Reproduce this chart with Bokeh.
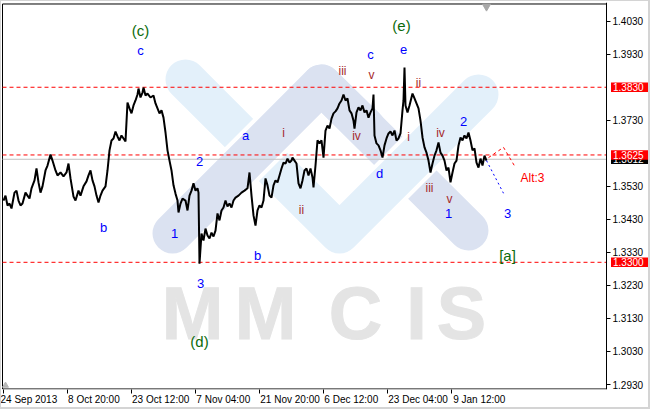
from bokeh.plotting import figure
from bokeh.embed import file_html
from bokeh.resources import INLINE
from bokeh.models import (Range1d, FixedTicker, NumeralTickFormatter,
                          ColumnDataSource, GlobalInlineStyleSheet)
from bokeh.core.properties import value

# ---------------- data ----------------
bars = [0, 2, 4, 6, 8, 11, 13, 15, 17, 19,
        22, 24, 26, 28, 31, 33, 35, 37, 39, 42,
        44, 47, 49, 52, 54, 57, 60, 63, 65, 67,
        70, 72, 75, 77, 80, 83, 85, 87, 89, 91,
        93, 95, 97, 99, 102, 104, 106, 108, 110, 112,
        114, 116, 118, 120, 122, 124, 126, 128, 130, 132,
        134, 135, 137, 139, 140, 142, 144, 147, 150, 152,
        154, 156, 158, 160, 162, 164, 166, 168, 170, 172,
        174, 175, 177, 179, 182, 184, 186, 188, 190, 192,
        194, 195, 196, 198, 200, 202, 204, 206, 208, 210,
        212, 214, 216, 218, 220, 222, 224, 226, 228, 230,
        232, 235, 238, 241, 244, 246, 248, 250, 252, 254,
        256, 258, 260, 262, 264, 266, 268, 270, 272, 274,
        276, 278, 280, 282, 284, 286, 288, 289, 291, 293,
        295, 297, 299, 301, 303, 305, 307, 309, 310, 312,
        314, 316, 318, 320, 322, 324, 326, 328, 330, 332,
        334, 336, 338, 340, 342, 344, 346, 348, 350, 351,
        353, 355, 357, 359, 361, 363, 365, 367, 369, 370,
        371, 373, 375, 377, 379, 381, 383, 385, 387, 389,
        391, 393, 395, 397, 399, 400, 401, 402, 404, 406,
        408, 409, 411, 413, 415, 417, 419, 421, 423, 425,
        427, 429, 431, 433, 435, 437, 439, 441, 443, 445,
        447, 449, 451, 453, 455, 457, 459, 461, 463, 465,
        467, 469, 471, 473, 475, 477, 479, 481, 483]

closes = [1.3487, 1.3502, 1.3472, 1.3478, 1.3463, 1.3511, 1.3517, 1.3487, 1.3472, 1.3478,
          1.3511, 1.3502, 1.3493, 1.3524, 1.3548, 1.3584, 1.3542, 1.3511, 1.3530, 1.3578,
          1.3593, 1.3626, 1.3608, 1.3578, 1.3563, 1.3572, 1.3560, 1.3572, 1.3599, 1.3554,
          1.3499, 1.3487, 1.3517, 1.3502, 1.3530, 1.3545, 1.3563, 1.3578, 1.3548, 1.3530,
          1.3502, 1.3481, 1.3502, 1.3517, 1.3530, 1.3578, 1.3639, 1.3669, 1.3675, 1.3696,
          1.3681, 1.3669, 1.3684, 1.3675, 1.3666, 1.3784, 1.3766, 1.3751, 1.3775, 1.3790,
          1.3808, 1.3826, 1.3799, 1.3814, 1.3829, 1.3805, 1.3811, 1.3799, 1.3805, 1.3781,
          1.3766, 1.3751, 1.3760, 1.3738, 1.3693, 1.3639, 1.3608, 1.3578, 1.3533, 1.3508,
          1.3487, 1.3451, 1.3478, 1.3493, 1.3487, 1.3457, 1.3502, 1.3517, 1.3539, 1.3517,
          1.3524, 1.3511, 1.3296, 1.3387, 1.3366, 1.3402, 1.3381, 1.3372, 1.3390, 1.3378,
          1.3396, 1.3448, 1.3427, 1.3457, 1.3466, 1.3487, 1.3469, 1.3478, 1.3466, 1.3487,
          1.3496, 1.3502, 1.3511, 1.3517, 1.3524, 1.3572, 1.3502, 1.3442, 1.3411, 1.3457,
          1.3472, 1.3466, 1.3487, 1.3554, 1.3533, 1.3502, 1.3496, 1.3533, 1.3548, 1.3542,
          1.3563, 1.3584, 1.3602, 1.3599, 1.3614, 1.3602, 1.3608, 1.3617, 1.3608, 1.3599,
          1.3539, 1.3524, 1.3548, 1.3578, 1.3584, 1.3563, 1.3584, 1.3557, 1.3527, 1.3593,
          1.3669, 1.3660, 1.3669, 1.3617, 1.3699, 1.3714, 1.3705, 1.3735, 1.3751, 1.3757,
          1.3766, 1.3781, 1.3790, 1.3808, 1.3790, 1.3796, 1.3760, 1.3751, 1.3729, 1.3705,
          1.3754, 1.3769, 1.3760, 1.3775, 1.3754, 1.3760, 1.3738, 1.3754, 1.3766, 1.3808,
          1.3684, 1.3660, 1.3654, 1.3639, 1.3617, 1.3654, 1.3675, 1.3690, 1.3696, 1.3684,
          1.3699, 1.3669, 1.3675, 1.3690, 1.3760, 1.3790, 1.3890, 1.3775, 1.3754, 1.3775,
          1.3799, 1.3811, 1.3796, 1.3781, 1.3766, 1.3729, 1.3678, 1.3648, 1.3632, 1.3608,
          1.3572, 1.3599, 1.3623, 1.3639, 1.3663, 1.3632, 1.3623, 1.3608, 1.3578, 1.3587,
          1.3542, 1.3572, 1.3599, 1.3608, 1.3654, 1.3678, 1.3669, 1.3684, 1.3675, 1.3693,
          1.3669, 1.3639, 1.3645, 1.3602, 1.3587, 1.3614, 1.3593, 1.3623, 1.3608]

date_ticks = [0, 64, 128, 192, 256, 320, 384, 448]
date_labels = ["24 Sep 2013", "8 Oct 20:00", "23 Oct 12:00", "7 Nov 04:00",
               "21 Nov 20:00", "6 Dec 12:00", "23 Dec 04:00", "9 Jan 12:00"]
price_ticks = [1.2930, 1.3030, 1.3130, 1.3230, 1.3330, 1.3430, 1.3530,
               1.3730, 1.3930, 1.4030]
levels = [1.3830, 1.3625, 1.3300]
bid = 1.3612

wave_text = ["(c)", "c", "b", "1", "2", "3", "(d)", "a", "b", "i", "ii", "iii", "iv",
             "c", "v", "d", "(e)", "e", "ii", "i", "iv", "2", "iii", "v", "1", "3",
             "Alt:3", "[a]"]
wave_kind = ["G", "B", "B", "B", "B", "B", "G", "B", "B", "R", "R", "R", "R",
             "B", "R", "B", "G", "B", "R", "R", "R", "B", "R", "R", "B", "B",
             "A", "G"]
wave_bar = [137, 137, 100, 171, 196, 197, 196, 242, 254, 280, 298, 339, 353,
            367, 368, 376, 398, 400, 415, 405, 437, 460, 426, 446, 445, 504,
            529, 504]
wave_price = [1.4002, 1.3941, 1.3405, 1.3387, 1.3605, 1.3236, 1.3060, 1.3684,
              1.3321, 1.3690, 1.3457, 1.3878, 1.3681, 1.3929, 1.3866, 1.3569,
              1.4017, 1.3944, 1.3844, 1.3678, 1.3690, 1.3726, 1.3524, 1.3493,
              1.3448, 1.3448, 1.3554, 1.3321]

proj_blue_bar = [483, 500]
proj_blue_price = [1.3608, 1.3509]
proj_red_bar = [485, 500, 512]
proj_red_price = [1.3617, 1.3648, 1.3587]

# watermark logo strokes (bar, price)
cyan_bar = [182, 336, 475]
cyan_price = [1.38535, 1.33873, 1.38081]
lav_bar = [169, 318, 465]
lav_price = [1.33873, 1.38384, 1.33964]

wm_letters = ["M", "M", "C", "I", "S"]
wm_bar = [189, 262, 352, 413, 458]
wm_price = 1.31451

# ---------------- layout constants ----------------
X0, X1 = -2, 647            # bar range across the whole canvas width
AX = 603                    # bar where the price scale sits
Y0, Y1 = 1.29149, 1.40866   # price range of the frame
TOP, BOT = 1.40821, 1.29165  # chart box edges
TAG_H = 0.00142             # half height of a price tag

p = figure(width=650, height=409, output_backend="svg", toolbar_location=None,
           x_range=Range1d(X0, X1), y_range=Range1d(Y0, Y1),
           y_axis_location="right", min_border_left=1, min_border_top=2,
           min_border_right=0, min_border_bottom=20)
p.stylesheets = [GlobalInlineStyleSheet(css=(
    "html,body{margin:0;padding:0;overflow:hidden;}"
    "body::after{content:'';position:fixed;left:0;top:0;width:650px;height:409px;"
    "box-sizing:border-box;border-style:solid;border-color:#d4d4d4;"
    "border-width:1px 2px 2px 1px;pointer-events:none;z-index:100;}"))]
p.background_fill_color = "white"
p.border_fill_color = "white"
p.outline_line_color = None
p.grid.visible = False

for ax in (p.xaxis[0], p.yaxis[0]):
    ax.axis_line_color = "black"
    ax.major_tick_line_color = "black"
    ax.major_tick_out = 4
    ax.major_tick_in = 0
    ax.minor_tick_out = 0
    ax.minor_tick_in = 0
    ax.major_label_text_font = "Liberation Sans"
    ax.major_label_text_font_size = "10px"
    ax.major_label_text_color = "black"
    ax.major_label_standoff = 2
p.xaxis[0].major_label_standoff = 0

# left-aligned date labels: pad each centred label on its left with no-break spaces
CW = {c: 556 for c in "0123456789aenopSO"}
CW.update({" ": 278, ":": 278, "t": 278, "c": 500, "v": 500, "J": 500,
           "N": 722, "D": 722, "O": 778, "S": 667})
def _w(s):
    return sum(CW.get(ch, 556) for ch in s) * 10 / 1000.0
def _pad(s):
    return "\u00a0" * int(round((_w(s) + 2) / 2.78)) + s

overrides = {}
for i, (t, l) in enumerate(zip(date_ticks, date_labels)):
    overrides[t] = l if i == 0 else _pad(l)
p.xaxis[0].ticker = FixedTicker(ticks=date_ticks)
p.xaxis[0].major_label_overrides = overrides
p.xaxis[0].axis_line_color = None
p.yaxis[0].ticker = FixedTicker(ticks=price_ticks)
p.yaxis[0].formatter = NumeralTickFormatter(format="0.0000")
p.yaxis[0].fixed_location = AX

# logo watermark
LAV = "#dbe2f1"
CY = "#e3f0fa"
r = p.line(lav_bar[1:], lav_price[1:], line_width=40, line_color=LAV, line_cap="round")
r.level = "image"
r = p.line(cyan_bar, cyan_price, line_width=48, line_color="white", line_cap="round", line_join="round")
r.level = "image"
r = p.line(cyan_bar, cyan_price, line_width=40, line_color=CY, line_cap="round", line_join="round")
r.level = "image"
r = p.line([lav_bar[0], 277], [lav_price[0], 1.37143], line_width=48, line_color="white", line_cap="round")
r.level = "image"
r = p.line([lav_bar[0], lav_bar[1], 362], [lav_price[0], lav_price[1], 1.37082],
           line_width=40, line_color=LAV, line_cap="round", line_join="round")
r.level = "image"

r = p.text(x=wm_bar, y=[wm_price] * len(wm_bar), text=wm_letters,
           text_font=value("Liberation Sans"), text_font_style="bold",
           text_font_size="74px", text_color="#e4e4e4",
           text_align="center", text_baseline="middle")
r.level = "image"
try:
    r.glyph.text_outline_color = "#e4e4e4"
except Exception:
    pass

# chart box
p.segment(x0=[X0 + 1, X0 + 1], y0=[TOP, BOT], x1=[AX, AX], y1=[TOP, BOT],
          line_color="black", line_width=1)
p.segment(x0=[X0 + 1], y0=[BOT], x1=[X0 + 1], y1=[TOP], line_color="black", line_width=1)

# levels
p.segment(x0=[X0 + 1] * len(levels), y0=levels, x1=[AX] * len(levels), y1=levels,
          line_color="red", line_dash="4 3", line_width=1)
p.segment(x0=[X0 + 1], y0=[bid], x1=[AX], y1=[bid], line_color="#c0c0c0", line_width=1)

# price
p.line(bars, closes, line_color="black", line_width=2)

# projections
p.line(proj_blue_bar, proj_blue_price, line_color="blue", line_width=1, line_dash="2 3")
p.line(proj_red_bar, proj_red_price, line_color="red", line_width=1, line_dash="3 3")

# wave labels
kind_color = {"G": "#0b6b0b", "B": "#0000ff", "R": "#a52a2a", "A": "#ff0000"}
kind_size = {"G": "15px", "B": "13px", "R": "12px", "A": "12px"}
src = ColumnDataSource(dict(x=wave_bar, y=wave_price, t=wave_text,
                            c=[kind_color[k] for k in wave_kind],
                            s=[kind_size[k] for k in wave_kind]))
p.text(x="x", y="y", text="t", source=src, text_color="c", text_font_size="s",
       text_font=value("Liberation Sans"), text_align="center", text_baseline="middle")

# chart-shift markers
p.scatter([483], [1.40745], marker="inverted_triangle", size=8, fill_color="#a8a8a8",
          line_color="#a8a8a8")
p.scatter([2], [1.2927], marker="triangle", size=6, fill_color="#b8b8b8",
          line_color="#b8b8b8")

# price tags on the scale (bid tag first, level tags over it)
tag_vals = [bid] + levels
tag_fill = ["black"] + ["#ff0000"] * len(levels)
tag_src = ColumnDataSource(dict(
    y=tag_vals, top=[v + TAG_H for v in tag_vals], bottom=[v - TAG_H for v in tag_vals],
    t=[f"{v:.4f}" for v in tag_vals], f=tag_fill))
for i in range(len(tag_vals)):
    view_src = ColumnDataSource({k: [v[i]] for k, v in tag_src.data.items()})
    r = p.quad(left=AX + 4.5, right=X1, top="top", bottom="bottom", source=view_src,
               fill_color="f", line_color=None)
    r.level = "annotation"
    r = p.text(x=AX + 6.5, y="y", text="t", source=view_src, text_color="white",
               text_font=value("Liberation Sans"), text_font_size="10px",
               text_align="left", text_baseline="middle")
    r.level = "annotation"

open("out.html", "w").write(file_html(p, INLINE))
